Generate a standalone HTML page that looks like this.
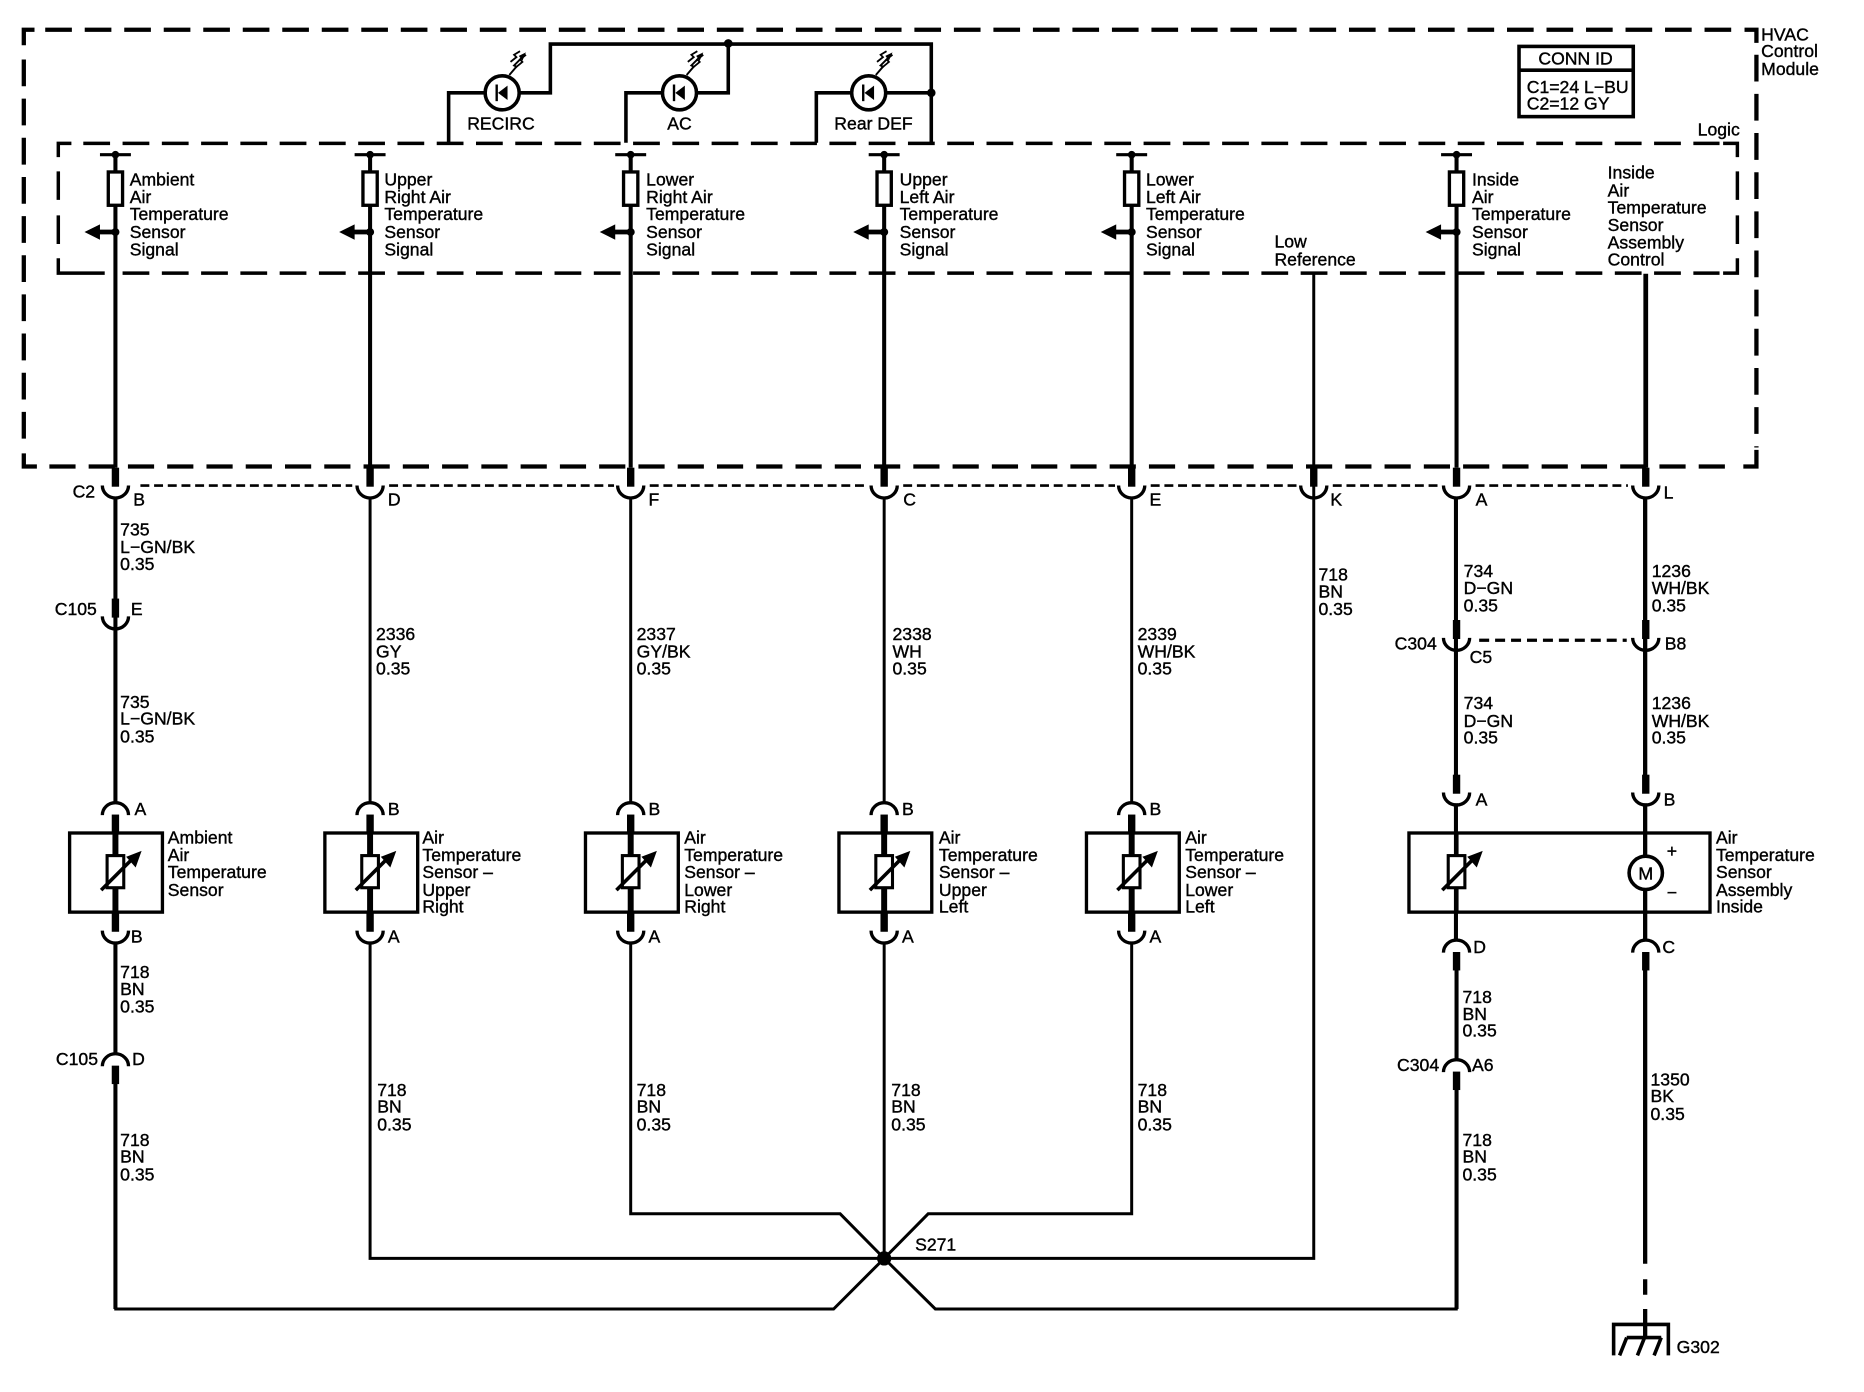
<!DOCTYPE html>
<html><head><meta charset="utf-8"><title>HVAC Diagram</title>
<style>
html,body{margin:0;padding:0;background:#fff}
svg{display:block}
text{font-family:"Liberation Sans",sans-serif;font-size:14.8px;fill:#000;stroke:#000;stroke-width:.32}
.w{fill:none;stroke:#000}
.m{text-anchor:middle}
.e{text-anchor:end}
</style></head><body>
<svg xmlns="http://www.w3.org/2000/svg" width="1864" height="1392" viewBox="0 0 1566.4 1169.75">
<defs>
<g id="sig">
 <path d="M-13 130H13" class="w" stroke-width="2.6"/>
 <circle cx="0" cy="130" r="3.2"/>
 <rect x="-6" y="144.5" width="12" height="28" fill="#fff" stroke="#000" stroke-width="2.8"/>
 <path d="M0 195H-14" class="w" stroke-width="4"/>
 <path d="M-26 195L-13 188.5V201.5Z"/>
 <circle cx="0" cy="195" r="3.4"/>
</g>
<g id="cup"><path d="M-11 0A11 10.5 0 0 0 11 0" class="w" stroke-width="2.8"/><path d="M0 -15V1" class="w" stroke-width="6.2"/></g>
<g id="cap"><path d="M-11 10A11 10.5 0 0 1 11 10" class="w" stroke-width="2.8"/><path d="M0 9.5V25" class="w" stroke-width="6.2"/></g>
<g id="res">
 <rect x="-7" y="719" width="14" height="27" fill="#fff" stroke="#000" stroke-width="2.6"/>
 <path d="M-12 748L14 722" class="w" stroke-width="3"/>
 <path d="M22 715L9 720L17 729Z"/>
</g>
<g id="led">
 <circle cx="0" cy="0" r="14.3" fill="#fff" stroke="#000" stroke-width="3"/>
 <path d="M-4.6 -7V7" class="w" stroke-width="2"/>
 <path d="M-3.5 0L4.5 -6V6Z"/>
 <path d="M6 -15L12 -22L10 -23L16 -29" class="w" stroke-width="1.6"/>
 <path d="M11 -21L17 -26L15 -28L20 -32M7 -26L12 -30L10 -32L15 -35" class="w" stroke-width="1.5"/>
 <path d="M20 -34L14 -31L17 -27ZM16 -31L18 -29" />
</g>
</defs>

<!-- outer dashed module -->
<g stroke-width="3.6" style="fill:none;stroke:#000">
 <path d="M20 38V25H29"/>
 <path d="M38 25H1462" stroke-dasharray="22.4 10.8"/>
 <path d="M1466 25H1476V36"/>
 <path d="M1476 46V376" stroke-dasharray="22.5 10.4"/>
 <path d="M1476 378V392H1465"/>
 <path d="M41.5 392H1460" stroke-dasharray="22 11"/>
 <path d="M20 381V392H31"/>
 <path d="M20 50V372" stroke-dasharray="22.5 10.4"/>
</g>
<!-- logic dashed -->
<g style="fill:none;stroke:#000" stroke-width="2.9">
 <path d="M49 132V120.5H60"/>
 <path d="M70 120.5H1445" stroke-dasharray="22.5 10.5"/>
 <path d="M1448 120.5H1460V132"/>
 <path d="M49 144V168M49 181V205"/>
 <path d="M49 217V229.5H88"/>
 <path d="M103 229.5H1445" stroke-dasharray="22.5 10.5"/>
 <path d="M1448 229.5H1460V217"/>
 <path d="M1460 144V168M1460 181V205"/>
</g>

<!-- LED wiring -->
<g class="w" stroke-width="3">
 <path d="M377 120V78H462.5V37H782.6V120"/>
 <path d="M526 120V78H612V37"/>
 <path d="M686 120V78H782.6"/>
</g>
<circle cx="612" cy="36.5" r="3.6"/><circle cx="782.6" cy="78" r="3.6"/>
<use href="#led" x="422" y="78"/><use href="#led" x="571" y="78"/><use href="#led" x="730" y="78"/>

<!-- dashed connector bodies -->
<path d="M118 408H296M327 408H516M546 408H729M759 408H937M967 408H1090M1120 408H1210M1240 408H1368" class="w" stroke-width="2.2" stroke-dasharray="7.5 4"/>
<path d="M1243 538H1367" class="w" stroke-width="2.7" stroke-dasharray="8.4 5"/>

<!-- wires -->
<g class="w" stroke-width="3.4">
 <path d="M97 130V393M311 130V393M530 130V393M743 130V393M951 130V393M1224 130V393"/>
 <path d="M97 418V675M97 792V886M97 908V1100M1224 915V1100M1224 815V891"/>
 <path d="M1223.5 418V666M1223.5 675V790"/>
 <path d="M1383 230V393" stroke-width="4"/>
 <path d="M1382.5 418V666M1382.5 675V790M1382.5 815V1062M1382.5 1075V1088M1382.5 1100V1123" stroke-width="3.6"/>
</g>
<g class="w" stroke-width="2.5">
 <path d="M311 418V675M530 418V675M743 418V675M951 418V675"/>
 <path d="M311 792V1057.5H1104V230"/>
 <path d="M530 792V1020H706L743 1057.5L780 1020H951V792"/>
 <path d="M743 792V1057.5"/>
 <path d="M96 1100H700.5L743 1057.5L786 1100H1225"/>
</g>
<circle cx="743" cy="1057.5" r="6"/>

<!-- signal blocks -->
<use href="#sig" x="97"/><use href="#sig" x="311"/><use href="#sig" x="530"/><use href="#sig" x="743"/><use href="#sig" x="951"/><use href="#sig" x="1224"/>

<!-- connectors -->
<use href="#cup" x="97" y="408"/><use href="#cup" x="311" y="408"/><use href="#cup" x="530" y="408"/><use href="#cup" x="743" y="408"/><use href="#cup" x="951" y="408"/><use href="#cup" x="1104" y="408"/><use href="#cup" x="1224" y="408"/><use href="#cup" x="1383" y="408"/>
<use href="#cup" x="97" y="518"/>
<use href="#cup" x="1224" y="536"/><use href="#cup" x="1383" y="536"/>
<use href="#cup" x="1224" y="666"/><use href="#cup" x="1383" y="666"/>
<use href="#cup" x="97" y="782"/><use href="#cup" x="311" y="782"/><use href="#cup" x="530" y="782"/><use href="#cup" x="743" y="782"/><use href="#cup" x="951" y="782"/>
<use href="#cap" x="97" y="675"/><use href="#cap" x="311" y="675"/><use href="#cap" x="530" y="675"/><use href="#cap" x="743" y="675"/><use href="#cap" x="951" y="675"/>
<use href="#cap" x="1224" y="790.5"/><use href="#cap" x="1383" y="790.5"/>
<use href="#cap" x="97" y="886"/><use href="#cap" x="1224" y="891"/>

<!-- sensor boxes -->
<g fill="none" stroke="#000" stroke-width="2.8">
 <rect x="58.5" y="700" width="78" height="66.5"/>
 <rect x="273" y="700" width="78" height="66.5"/>
 <rect x="492" y="700" width="78" height="66.5"/>
 <rect x="705" y="700" width="78" height="66.5"/>
 <rect x="913" y="700" width="78" height="66.5"/>
 <rect x="1184" y="700" width="253" height="66.5"/>
</g>
<path d="M97 700V767M311 700V767M530 700V767M743 700V767M951 700V767" class="w" stroke-width="5"/>
<path d="M1224 700V767" class="w" stroke-width="3.4"/>
<use href="#res" x="97"/><use href="#res" x="311"/><use href="#res" x="530"/><use href="#res" x="743"/><use href="#res" x="951"/><use href="#res" x="1224"/>
<circle cx="1383" cy="733.5" r="14" fill="#fff" stroke="#000" stroke-width="3"/>

<!-- conn id -->
<rect x="1276.5" y="39" width="96" height="59" fill="#fff" stroke="#000" stroke-width="3"/>
<path d="M1276 59H1373" class="w" stroke-width="3"/>

<!-- ground -->
<g class="w" stroke-width="3">
 <path d="M1356 1139V1113H1402V1139"/>
 <path d="M1367 1124H1396"/>
 <path d="M1367 1124L1361 1139M1382 1124L1376 1139M1396 1124L1390 1139"/>
</g>

<!-- upper labels -->
<g transform="translate(-1 0)">
<text x="1481" y="34">HVAC</text><text x="1481" y="48">Control</text><text x="1481" y="63">Module</text>
<text x="1463" y="114" class="e">Logic</text>
<text x="1325" y="54" class="m">CONN ID</text>
<text x="1284" y="78">C1=24 L−BU</text><text x="1284" y="92">C2=12 GY</text>
<text x="422" y="109" class="m">RECIRC</text><text x="572" y="109" class="m">AC</text><text x="735" y="109" class="m">Rear DEF</text>

<text x="110" y="156">Ambient</text><text x="110" y="170.5">Air</text><text x="110" y="185">Temperature</text><text x="110" y="200">Sensor</text><text x="110" y="214.5">Signal</text>
<text x="324" y="156">Upper</text><text x="324" y="170.5">Right Air</text><text x="324" y="185">Temperature</text><text x="324" y="200">Sensor</text><text x="324" y="214.5">Signal</text>
<text x="544" y="156">Lower</text><text x="544" y="170.5">Right Air</text><text x="544" y="185">Temperature</text><text x="544" y="200">Sensor</text><text x="544" y="214.5">Signal</text>
<text x="757" y="156">Upper</text><text x="757" y="170.5">Left Air</text><text x="757" y="185">Temperature</text><text x="757" y="200">Sensor</text><text x="757" y="214.5">Signal</text>
<text x="964" y="156">Lower</text><text x="964" y="170.5">Left Air</text><text x="964" y="185">Temperature</text><text x="964" y="200">Sensor</text><text x="964" y="214.5">Signal</text>
<text x="1238" y="156">Inside</text><text x="1238" y="170.5">Air</text><text x="1238" y="185">Temperature</text><text x="1238" y="200">Sensor</text><text x="1238" y="214.5">Signal</text>
<text x="1072" y="208">Low</text><text x="1072" y="223">Reference</text>
<text x="1352" y="150">Inside</text><text x="1352" y="165">Air</text><text x="1352" y="179.5">Temperature</text><text x="1352" y="194">Sensor</text><text x="1352" y="209">Assembly</text><text x="1352" y="223">Control</text>

<text x="62" y="418">C2</text><text x="113" y="425">B</text><text x="327" y="425">D</text><text x="546" y="425">F</text><text x="760" y="425">C</text><text x="967" y="425">E</text><text x="1119" y="425">K</text><text x="1241" y="425">A</text><text x="1399" y="419">L</text>

<text x="102" y="450">735</text><text x="102" y="464.5">L−GN/BK</text><text x="102" y="479">0.35</text>
<text x="47" y="517">C105</text><text x="111" y="517">E</text>
<text x="102" y="595">735</text><text x="102" y="609">L−GN/BK</text><text x="102" y="624">0.35</text>
<text x="114" y="685">A</text>

<text x="317" y="538">2336</text><text x="317" y="552.5">GY</text><text x="317" y="567">0.35</text>
<text x="327" y="685">B</text>
<text x="536" y="538">2337</text><text x="536" y="552.5">GY/BK</text><text x="536" y="567">0.35</text>
<text x="546" y="685">B</text>
<text x="751" y="538">2338</text><text x="751" y="552.5">WH</text><text x="751" y="567">0.35</text>
<text x="759" y="685">B</text>
<text x="957" y="538">2339</text><text x="957" y="552.5">WH/BK</text><text x="957" y="567">0.35</text>
<text x="967" y="685">B</text>

<text x="1109" y="488">718</text><text x="1109" y="502">BN</text><text x="1109" y="517">0.35</text>
<text x="1231" y="485">734</text><text x="1231" y="499">D−GN</text><text x="1231" y="514">0.35</text>
<text x="1173" y="546">C304</text><text x="1236" y="557">C5</text>
<text x="1231" y="596">734</text><text x="1231" y="611">D−GN</text><text x="1231" y="625">0.35</text>
<text x="1241" y="677">A</text>
<text x="1389" y="485">1236</text><text x="1389" y="499">WH/BK</text><text x="1389" y="514">0.35</text>
<text x="1400" y="546">B8</text>
<text x="1389" y="596">1236</text><text x="1389" y="611">WH/BK</text><text x="1389" y="625">0.35</text>
<text x="1399" y="677">B</text>
</g>

<!-- lower labels -->
<g transform="translate(-1 -1)">
<text x="142" y="710">Ambient</text><text x="142" y="724.5">Air</text><text x="142" y="739">Temperature</text><text x="142" y="754">Sensor</text>
<text x="111" y="793">B</text>
<text x="102" y="823">718</text><text x="102" y="837">BN</text><text x="102" y="852">0.35</text>
<text x="48" y="896">C105</text><text x="112" y="896">D</text>
<text x="102" y="964">718</text><text x="102" y="978">BN</text><text x="102" y="993">0.35</text>

<text x="356" y="710">Air</text><text x="356" y="724.5">Temperature</text><text x="356" y="739">Sensor –</text><text x="356" y="754">Upper</text><text x="356" y="768">Right</text>
<text x="327" y="793">A</text>
<text x="318" y="922">718</text><text x="318" y="936">BN</text><text x="318" y="951">0.35</text>

<text x="576" y="710">Air</text><text x="576" y="724.5">Temperature</text><text x="576" y="739">Sensor –</text><text x="576" y="754">Lower</text><text x="576" y="768">Right</text>
<text x="546" y="793">A</text>
<text x="536" y="922">718</text><text x="536" y="936">BN</text><text x="536" y="951">0.35</text>

<text x="790" y="710">Air</text><text x="790" y="724.5">Temperature</text><text x="790" y="739">Sensor –</text><text x="790" y="754">Upper</text><text x="790" y="768">Left</text>
<text x="759" y="793">A</text>
<text x="750" y="922">718</text><text x="750" y="936">BN</text><text x="750" y="951">0.35</text>

<text x="997" y="710">Air</text><text x="997" y="724.5">Temperature</text><text x="997" y="739">Sensor –</text><text x="997" y="754">Lower</text><text x="997" y="768">Left</text>
<text x="967" y="793">A</text>
<text x="957" y="922">718</text><text x="957" y="936">BN</text><text x="957" y="951">0.35</text>

<text x="1239" y="802">D</text>
<text x="1230" y="844">718</text><text x="1230" y="858">BN</text><text x="1230" y="872">0.35</text>
<text x="1175" y="901">C304</text><text x="1238" y="901">A6</text>
<text x="1230" y="964">718</text><text x="1230" y="978">BN</text><text x="1230" y="993">0.35</text>

<text x="1398" y="802">C</text>
<text x="1388" y="913">1350</text><text x="1388" y="927">BK</text><text x="1388" y="942">0.35</text>
<text x="1410" y="1138">G302</text>
<text x="770" y="1052">S271</text>

<text x="1443" y="710">Air</text><text x="1443" y="724.5">Temperature</text><text x="1443" y="739">Sensor</text><text x="1443" y="754">Assembly</text><text x="1443" y="768">Inside</text>
<text x="1384" y="740" class="m" style="font-size:15px">M</text>
<text x="1406" y="721" class="m">+</text><text x="1406" y="756" class="m">−</text>
</g>
</svg>
</body></html>
